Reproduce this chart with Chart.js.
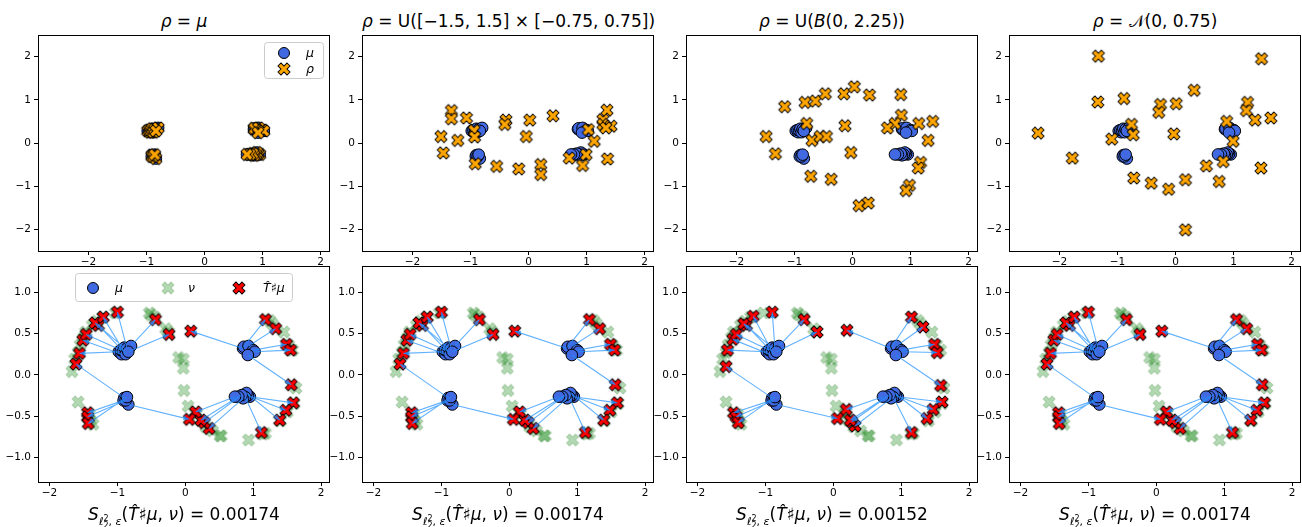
<!DOCTYPE html>
<html>
<head>
<meta charset="utf-8">
<script src="https://cdn.jsdelivr.net/npm/chart.js@4.4.1/dist/chart.umd.min.js"></script>
<style>
  body { margin: 0; background: #fff; }
  #fig { position: relative; width: 1302px; height: 527px; overflow: hidden; font-family: 'DejaVu Sans', sans-serif; color: #000; }
  #fig canvas { position: absolute; }
  .ttl, .lbl { position: absolute; width: 292px; text-align: center; font-size: 17px; line-height: 24px; white-space: nowrap; }
  .ttl { top: 9px; }
  .lbl { top: 502px; }
  .sb { font-size: 11px; position: relative; top: 5px; }
  .st { display: inline-flex; flex-direction: column; font-size: 8px; line-height: 7px; vertical-align: middle; }
</style>
</head>
<body>
<div id="fig"></div>
<script>
// ---- data ----
// mu: 4 small clusters (same in every panel), order matches the transported points below
const muX = [-0.90, -0.98, -0.94, -0.95, -0.92, -0.90, -0.88, -0.86, -0.80, -0.84,
             0.85, 0.86, 0.93, 1.00, 1.02, 0.92,
             0.95, 0.92, 0.90, 0.88, 0.85, 0.83, 0.78, 0.73,
             -0.84, -0.91, -0.88, -0.86]
const muY = [-0.28, 0.28, 0.25, 0.30, 0.29, 0.33, 0.25, 0.32, 0.35, 0.28,
             0.32, 0.34, 0.35, 0.30, 0.28, 0.24,
             -0.265, -0.25, -0.22, -0.27, -0.285, -0.245, -0.265, -0.265,
             -0.36, -0.31, -0.31, -0.27]

// T#mu for panels 1, 2, 4
const tX = [-1.61, -1.56, -1.51, -1.46, -1.28, -1.33, -1.21, -1.00, -0.44, -0.24,
            0.08, 1.18, 1.33, 1.49, 1.55, 1.56,
            1.59, 1.48, 1.39, 1.12, 0.35, 0.28, 0.23, 0.15,
            0.06, -1.44, -1.44, -1.43]
const tY = [0.13, 0.26, 0.42, 0.49, 0.60, 0.63, 0.70, 0.76, 0.67, 0.49,
            0.53, 0.67, 0.56, 0.37, 0.30, -0.12,
            -0.34, -0.43, -0.55, -0.70, -0.65, -0.58, -0.55, -0.45,
            -0.54, -0.46, -0.51, -0.59]
// T#mu for panel 3
const t3X = [-1.58, -1.56, -1.48, -1.43, -1.28, -1.32, -1.18, -0.90, -0.43, -0.24,
             0.20, 1.15, 1.32, 1.49, 1.53, 1.58,
             1.60, 1.47, 1.38, 1.15, 0.32, 0.27, 0.25, 0.19,
             0.06, -1.47, -1.43, -1.40]
const t3Y = [0.10, 0.30, 0.43, 0.49, 0.60, 0.62, 0.71, 0.76, 0.67, 0.52,
             0.54, 0.70, 0.58, 0.37, 0.27, -0.13,
             -0.33, -0.42, -0.53, -0.70, -0.62, -0.57, -0.55, -0.42,
             -0.53, -0.46, -0.51, -0.58]

// nu (target)
const nuX = [-1.67, -1.63, -1.58, -1.55, -1.50, -1.47, -1.37, -1.30, -1.22, -1.03,
             -0.53, -0.51, -0.45, -0.29, -0.25, -0.10, -0.03, -0.03, -0.02, 0.04,
             -1.58, -1.41, -1.40, -1.36, 0.17, 0.22, 0.30, 0.40, 0.51, 0.53,
             0.93, 1.14, 1.18, 1.63, 1.60, 1.50, 1.40, 1.58, 1.52, 1.45, 1.28, 1.24]
const nuY = [0.04, 0.19, 0.27, 0.36, 0.45, 0.52, 0.60, 0.65, 0.70, 0.75,
             0.75, 0.73, 0.70, 0.56, 0.52, 0.21, 0.19, 0.08, -0.19, -0.38,
             -0.33, -0.48, -0.55, -0.60, -0.47, -0.55, -0.63, -0.68, -0.74, -0.74,
             -0.79, -0.72, -0.71, -0.16, -0.35, -0.45, -0.56, 0.30, 0.36, 0.52, 0.62, 0.66]

// rho samples, top row (panel 1 is rho = mu)
const rho2X = [-1.33, -1.33, -1.07, -1.51, -1.47, -1.22, -0.94, -0.93, -0.92, -0.55,
               -0.39, -0.41, -0.17, -0.04, 0.02, 0.21, 0.21, 0.42, 0.70, 0.99,
               0.93, 1.03, 1.13, 1.28, 1.28, 1.35, 1.36, 1.42, 1.33]
const rho2Y = [0.75, 0.56, 0.58, 0.15, -0.23, 0.06, 0.29, 0.14, -0.48, -0.54,
               0.53, 0.43, -0.60, 0.15, 0.53, -0.50, -0.73, 0.63, -0.35, -0.27,
               -0.52, 0.31, 0.04, 0.54, 0.43, 0.76, -0.37, 0.39, 0.35]
const rho3X = [-1.49, -1.33, -1.17, -0.82, -0.64, -0.47, -0.79, -0.70, -0.56, -0.45,
               -0.72, -0.37, -0.15, 0.03, 0.29, -0.13, -0.03, 0.11, 0.27, 0.83,
               0.84, 0.73, 0.60, 1.14, 1.38, 1.30, 1.17, 1.13, 0.98, 0.92]
const rho3Y = [0.15, -0.25, 0.84, 0.94, 0.97, 1.14, 0.45, 0.06, 0.15, 0.15,
               -0.77, -0.84, 1.14, 1.30, 1.11, 0.40, -0.22, -1.45, -1.39, 1.12,
               0.64, 0.45, 0.35, 0.45, 0.50, 0.06, -0.45, -0.58, -0.98, -1.10]
const rho4X = [-2.37, -1.78, -1.33, -1.34, -0.89, -1.10, -0.76, -0.73, -0.72, -0.42,
               -0.12, -0.26, -0.29, 0.01, -0.03, 0.17, 0.17, 0.32, 0.53, 0.75,
               0.82, 0.88, 0.99, 1.24, 1.22, 1.37, 1.48, 1.47, 1.64]
const rho4Y = [0.23, -0.35, 2.01, 0.95, 1.03, 0.09, 0.43, 0.19, -0.81, -0.93,
               -1.07, 0.89, 0.71, 0.91, 0.21, -0.85, -2.01, 1.22, -0.53, -0.89,
               -0.43, 0.50, 0.04, 0.94, 0.75, 0.53, 1.95, -0.58, 0.58]

// axes
const topXRange = [-2.87, 2.16], topYRange = [-2.5, 2.5]
const botXRange = [-2.17, 2.13], botYRange = [-1.3, 1.32]
const topXTicks = [-2, -1, 0, 1, 2], topYTicks = [-2, -1, 0, 1, 2]
const botXTicks = [-2, -1, 0, 1, 2], botYTicks = [-1, -0.5, 0, 0.5, 1]

const titles = [
  '<i>ρ</i> = <i>μ</i>',
  '<i>ρ</i> = U([−1.5, 1.5] × [−0.75, 0.75])',
  '<i>ρ</i> = U(<i>B</i>(0, 2.25))',
  '<i>ρ</i> = 𝒩(0, 0.75)'
]
const scores = ['0.00174', '0.00174', '0.00152', '0.00174']

// ---- layout ----
const COLS = [38, 362, 686, 1009], ROWS = [35, 266]
const PW = 292, PH = 216, YW = 34, XH = 22
const BLUE = '#4169e1'
const fig = document.getElementById('fig')

Chart.defaults.font.family = "'DejaVu Sans'"
Chart.defaults.font.size = 10.5
Chart.defaults.color = '#000'

function fmt (v, d) { return (v < 0 ? '\u2212' : '') + Math.abs(v).toFixed(d) }
function pts (xs, ys) { return xs.map((x, i) => ({ x, y: ys[i] })) }

// matplotlib style filled "X" marker
function xMarker (fill, alpha, edge) {
  const h = 6, u = h / 2.83, d = 16
  const c = document.createElement('canvas')
  c.width = c.height = d
  const g = c.getContext('2d')
  const poly = [[-1, -3], [1, -3], [1, -1], [3, -1], [3, 1], [1, 1], [1, 3], [-1, 3], [-1, 1], [-3, 1], [-3, -1], [-1, -1]]
  g.globalAlpha = alpha
  g.translate(d / 2, d / 2)
  g.rotate(Math.PI / 4)
  g.beginPath()
  poly.forEach(([a, b], i) => i ? g.lineTo(a * u, b * u) : g.moveTo(a * u, b * u))
  g.closePath()
  g.fillStyle = fill
  g.fill()
  g.lineWidth = 1
  g.lineJoin = 'miter'
  g.strokeStyle = edge
  g.stroke()
  return c
}
const orangeX = xMarker('#ffa500', 1, '#000')
const redX = xMarker('#ff0000', 1, '#000')
const greenX = xMarker('#008000', 0.3, '#2f7f2f')

function axis (range, ticks, dec, isX) {
  return {
    type: 'linear',
    min: range[0],
    max: range[1],
    afterFit: s => {
      if (isX) s.height = XH; else s.width = YW
      s.paddingTop = s.paddingBottom = s.paddingLeft = s.paddingRight = 0
    },
    afterBuildTicks: s => { s.ticks = ticks.map(v => ({ value: v })) },
    ticks: { callback: v => fmt(v, dec), padding: isX ? 1 : 3, autoSkip: false, maxRotation: 0, color: '#000' },
    grid: { drawOnChartArea: false, drawTicks: true, tickLength: 4, tickWidth: 1, color: '#000' },
    border: { display: false }
  }
}

// white axes face, frame, in-axes legend and arrow heads
function framePlugin (legend) {
  return {
    id: 'frame',
    beforeDraw (chart) {
      const a = chart.chartArea, g = chart.ctx
      g.save()
      g.fillStyle = '#fff'
      g.fillRect(a.left, a.top, a.width, a.height)
      g.restore()
    },
    afterDatasetsDraw (chart) {
      const a = chart.chartArea, g = chart.ctx
      chart.data.datasets.forEach((ds, i) => {
        if (!ds.arrows) return
        const p = chart.getDatasetMeta(i).data
        g.save()
        g.beginPath()
        g.rect(a.left, a.top, a.width, a.height)
        g.clip()
        g.fillStyle = ds.borderColor
        for (let k = 0; k + 1 < p.length; k += 3) {
          const x0 = p[k].x, y0 = p[k].y, x1 = p[k + 1].x, y1 = p[k + 1].y
          const ang = Math.atan2(y1 - y0, x1 - x0), L = 6, W = 2.5
          g.beginPath()
          g.moveTo(x1, y1)
          g.lineTo(x1 - L * Math.cos(ang) + W * Math.sin(ang), y1 - L * Math.sin(ang) - W * Math.cos(ang))
          g.lineTo(x1 - L * Math.cos(ang) - W * Math.sin(ang), y1 - L * Math.sin(ang) + W * Math.cos(ang))
          g.closePath()
          g.fill()
        }
        g.restore()
      })
    },
    afterDraw (chart) {
      const a = chart.chartArea, g = chart.ctx
      g.save()
      g.strokeStyle = '#000'
      g.lineWidth = 1
      g.strokeRect(Math.round(a.left) + 0.5, Math.round(a.top) + 0.5, Math.round(a.width) - 1, Math.round(a.height))
      if (legend) {
        const b = legend.box, x0 = a.left + b.x, y0 = a.top + b.y
        g.beginPath()
        g.roundRect(x0 + 0.5, y0 + 0.5, b.w, b.h, 3)
        g.fillStyle = 'rgba(255,255,255,0.8)'
        g.fill()
        g.strokeStyle = '#cccccc'
        g.stroke()
        g.font = "italic 12.5px 'DejaVu Sans'"
        g.textBaseline = 'middle'
        legend.items.forEach(it => {
          const mx = a.left + it.mx, my = a.top + it.y
          if (it.marker === 'circle') {
            g.beginPath()
            g.arc(mx, my, 5.5, 0, Math.PI * 2)
            g.fillStyle = BLUE
            g.fill()
            g.strokeStyle = '#000'
            g.stroke()
          } else {
            g.drawImage(it.marker, mx - 8, my - 8)
          }
          g.fillStyle = '#000'
          g.fillText(it.text, a.left + it.tx, my + 1)
        })
      }
      g.restore()
    }
  }
}

function panel (col, row, datasets, xr, yr, xt, yt, dec, legend) {
  const cv = document.createElement('canvas')
  cv.width = PW + YW + 1
  cv.height = PH + XH + 1
  cv.style.left = (COLS[col] - YW) + 'px'
  cv.style.top = (ROWS[row] - 1) + 'px'
  fig.appendChild(cv)
  new Chart(cv.getContext('2d'), {
    type: 'scatter',
    data: { datasets },
    options: {
      responsive: false,
      animation: false,
      devicePixelRatio: 1,
      events: [],
      layout: { autoPadding: false, padding: { top: 1, right: 1, left: 0, bottom: 0 } },
      plugins: { legend: { display: false }, tooltip: { enabled: false } },
      scales: { x: axis(xr, xt, 0, true), y: axis(yr, yt, dec, false) }
    },
    plugins: [framePlugin(legend)]
  })
}

const rhoX = [muX, rho2X, rho3X, rho4X], rhoY = [muY, rho2Y, rho3Y, rho4Y]
const mapX = [tX, tX, t3X, tX], mapY = [tY, tY, t3Y, tY]

const muSet = order => ({
  data: pts(muX, muY), pointStyle: 'circle', pointRadius: 5.8,
  backgroundColor: BLUE, borderColor: '#000', borderWidth: 1, order
})

// top row
for (let c = 0; c < 4; c++) {
  panel(c, 0, [
    { data: pts(rhoX[c], rhoY[c]), pointStyle: orangeX, pointRadius: 6, order: 1 },
    muSet(2)
  ], topXRange, topYRange, topXTicks, topYTicks, 0, c === 0 ? {
    box: { x: 226, y: 7, w: 59, h: 36 },
    items: [
      { marker: 'circle', mx: 246, tx: 268, y: 18, text: 'μ' },
      { marker: orangeX, mx: 246, tx: 268, y: 34, text: 'ρ' }
    ]
  } : null)
}

// bottom row
for (let c = 0; c < 4; c++) {
  const seg = []
  muX.forEach((x, i) => {
    seg.push({ x, y: muY[i] }, { x: mapX[c][i], y: mapY[c][i] }, { x: mapX[c][i], y: null })
  })
  panel(c, 1, [
    { data: seg, arrows: true, showLine: true, pointRadius: 0, borderColor: 'rgba(30,144,255,0.7)', borderWidth: 1.1, order: 0 },
    { data: pts(mapX[c], mapY[c]), pointStyle: redX, pointRadius: 6, order: 1 },
    muSet(2),
    { data: pts(nuX, nuY), pointStyle: greenX, pointRadius: 6, order: 3 }
  ], botXRange, botYRange, botXTicks, botYTicks, 1, c === 0 ? {
    box: { x: 37, y: 7, w: 217, h: 28 },
    items: [
      { marker: 'circle', mx: 55, tx: 77, y: 22, text: 'μ' },
      { marker: greenX, mx: 130, tx: 150, y: 22, text: 'ν' },
      { marker: redX, mx: 201, tx: 225, y: 22, text: 'T̂♯μ' }
    ]
  } : null)
}

// titles and bottom labels as real text
titles.forEach((t, c) => {
  const d = document.createElement('div')
  d.className = 'ttl'
  d.style.left = COLS[c] + 'px'
  d.innerHTML = t
  fig.appendChild(d)
})
scores.forEach((s, c) => {
  const d = document.createElement('div')
  d.className = 'lbl'
  d.style.left = COLS[c] + 'px'
  d.innerHTML = '<i>S</i><span class="sb"><i>ℓ</i><span class="st"><span>2</span><span>2</span></span>, <i>ε</i></span>(<i>T̂</i>♯<i>μ</i>, <i>ν</i>) = ' + s
  fig.appendChild(d)
})
</script>
</body>
</html>
